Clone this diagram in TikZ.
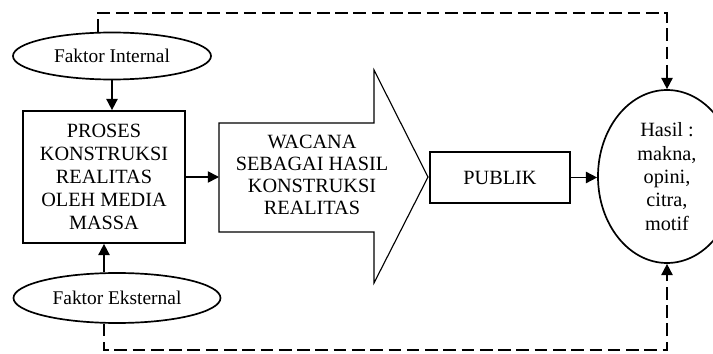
\documentclass[tikz,border=0pt]{standalone}
\usepackage{fontspec}
\setmainfont{Liberation Serif}
\usetikzlibrary{shapes,arrows.meta,positioning}

\begin{document}
\begin{tikzpicture}[>={Triangle[length=8pt,width=8pt]}, line width=1.2pt,
  faktor/.style={draw, ellipse, inner sep=0pt, font=\fontsize{13.8}{15}\selectfont},
  kotak/.style={draw, rectangle, align=center, font=\fontsize{14.4}{16.4}\selectfont},
  garis/.style={dash pattern=on 9pt off 4pt}]
\useasboundingbox (0,0) rectangle (17.825,8.825);

% Faktor internal dan eksternal
\node[faktor, minimum width=4.95cm, minimum height=1.175cm] (fint) at (2.8,7.425) {Faktor Internal};
\node[faktor, minimum width=5.175cm, minimum height=1.25cm] (fext) at (2.925,1.375) {Faktor Eksternal};

% Proses konstruksi
\node[kotak, minimum width=4.05cm, minimum height=3.3cm] (proses) at (2.6,4.4)
  {PROSES\\KONSTRUKSI\\REALITAS\\OLEH MEDIA\\MASSA};

% Panah besar wacana
\draw[line width=0.8pt] (5.475,5.75) -- (9.35,5.75) -- (9.35,7.075) -- (10.7,4.4)
  -- (9.35,1.75) -- (9.35,3.025) -- (5.475,3.025) -- cycle;
\node[align=center, font=\fontsize{14.4}{15.6}\selectfont] (wacana) at (7.8,4.45)
  {WACANA\\SEBAGAI HASIL\\KONSTRUKSI\\REALITAS};
\coordinate (wacanaekor) at (5.475,4.4);

% Publik dan hasil
\node[kotak, minimum width=3.5cm, minimum height=1.275cm] (publik) at (12.5,4.3875) {PUBLIK};
\node[draw, ellipse, align=center, minimum width=3.45cm, minimum height=4.325cm,
  font=\fontsize{14.4}{16.6}\selectfont] (hasil) at (16.675,4.4125)
  {Hasil :\\makna,\\opini,\\citra,\\motif};

% Panah
\draw[->] (fint.south) -- (fint.south |- proses.north);
\draw[->] (proses.south |- fext.north) -- (proses.south);
\draw[->] (proses.east) -- (wacanaekor);
\draw[->] (publik.east) -- (publik.east -| hasil.west);

% Garis putus-putus ke hasil
\coordinate (atas) at (16.675,8.5);
\coordinate (bawah) at (16.675,0.075);
\draw[garis, ->] ([xshift=-0.35cm]fint.north) |- (atas) -- (hasil.north);
\draw[garis, ->] (proses.south |- fext.south) |- (bawah) -- (hasil.south);
\end{tikzpicture}
\end{document}
